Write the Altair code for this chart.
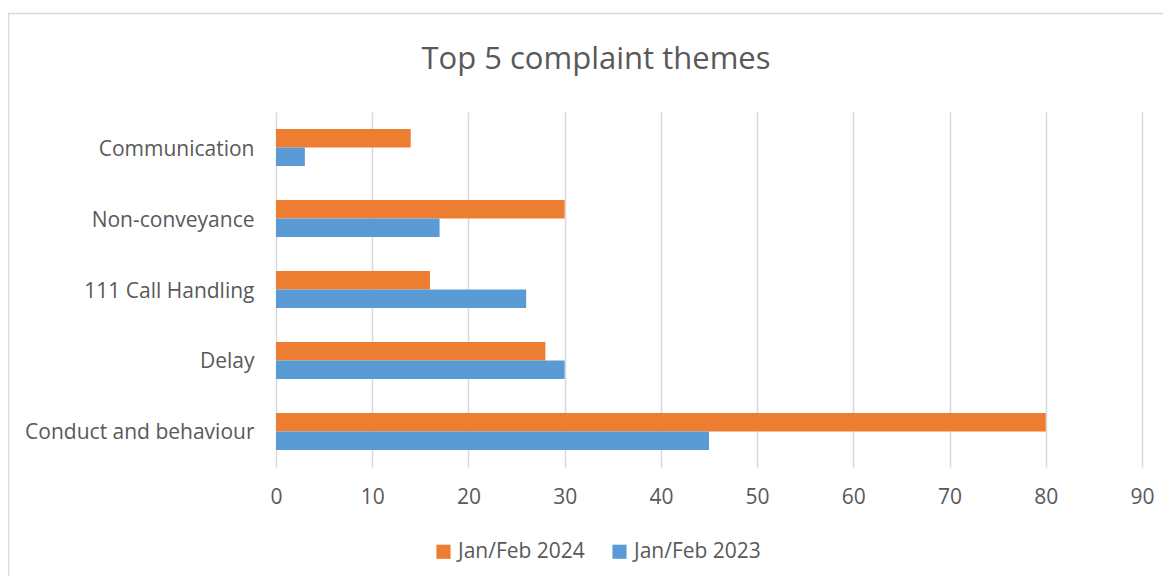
import altair as alt
import pandas as pd

themes = ["Communication", "Non-conveyance", "111 Call Handling", "Delay", "Conduct and behaviour"]
series = ["Jan/Feb 2024", "Jan/Feb 2023"]
values_2024 = [14, 30, 16, 28, 80]
values_2023 = [3, 17, 26, 30, 45]
x_ticks = [0, 10, 20, 30, 40, 50, 60, 70, 80, 90]
title_text = "Top 5 complaint themes"

rows = []
for t, a, b in zip(themes, values_2024, values_2023):
    rows.append({"theme": t, "series": series[0], "value": a})
    rows.append({"theme": t, "series": series[1], "value": b})
df = pd.DataFrame(rows)

FONT = "Open Sans"
TXT = "#595959"

bars = alt.Chart(df).mark_bar(size=18.5).encode(
    y=alt.Y("theme:N", sort=themes,
            scale=alt.Scale(paddingInner=0.479, paddingOuter=0.24),
            axis=alt.Axis(title=None, labelFontSize=21, labelColor=TXT, labelFont=FONT,
                          domain=False, ticks=False, labelPadding=22, grid=False,
                          labelLimit=400, labelOffset=2)),
    yOffset=alt.YOffset("series:N", sort=series, scale=alt.Scale(paddingInner=0, paddingOuter=0)),
    x=alt.X("value:Q", scale=alt.Scale(domain=[0, 90], nice=False),
            axis=alt.Axis(title=None, values=x_ticks, labelFontSize=21, labelColor=TXT,
                          labelFont=FONT, domain=False, ticks=False, labelPadding=19,
                          labelFlush=False, grid=True, gridColor="#D9D9D9", gridWidth=1.5)),
    color=alt.Color("series:N", sort=series,
                    scale=alt.Scale(domain=series, range=["#ED7D31", "#5B9BD5"]),
                    legend=alt.Legend(title=None, orient="none", direction="horizontal",
                                      legendX=157, legendY=429, symbolType="square",
                                      symbolSize=200, symbolStrokeWidth=0,
                                      labelFontSize=21, labelColor=TXT, labelFont=FONT,
                                      columnPadding=24, labelOffset=4)),
)

border = alt.Chart(pd.DataFrame({"a": [0]})).mark_rect(
    fill=None, stroke="#D9D9D9", strokeWidth=1.5
).encode(
    x=alt.value(-267.5), x2=alt.value(1000),
    y=alt.value(-98.5), y2=alt.value(600),
)

title = alt.Chart(pd.DataFrame({"t": [title_text]})).mark_text(
    font=FONT, fontSize=31, color=TXT, align="center", baseline="middle"
).encode(
    text="t:N", x=alt.value(320), y=alt.value(-52),
)

chart = alt.layer(border, bars, title).properties(
    width=866, height=355,
    autosize=alt.AutoSizeParams(type="none"),
    padding={"left": 268, "top": 104, "right": 21, "bottom": 109},
).configure_view(stroke=None)

chart.save("out.html", embed_options={"renderer": "svg", "actions": False})
